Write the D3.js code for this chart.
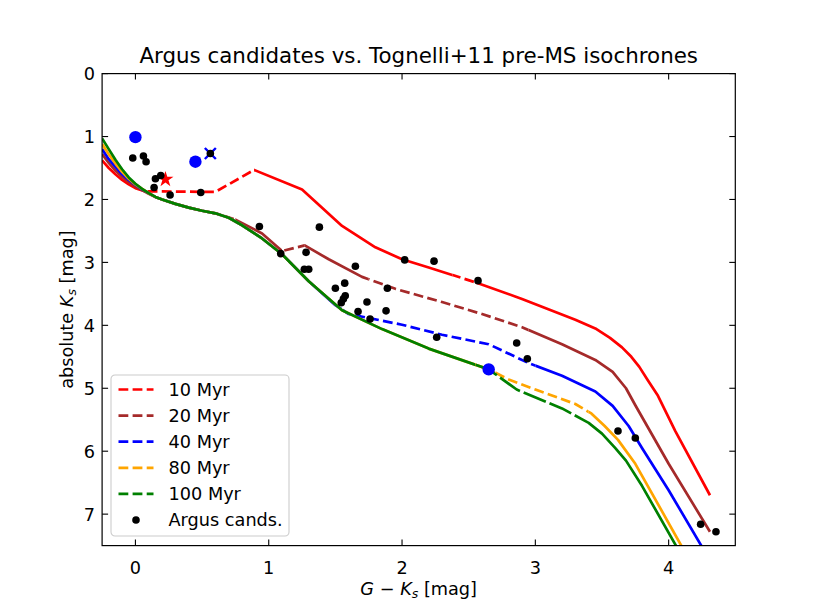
<!DOCTYPE html>
<html>
<head>
<meta charset="utf-8">
<script src="https://cdn.jsdelivr.net/npm/d3@7"></script>
<style>
  body { margin: 0; background: #fff; }
  svg { display: block; font-family: "DejaVu Sans", sans-serif; }
</style>
</head>
<body>
<div id="chart"></div>
<script>
// isochrones, [G-Ks, Ks]
const iso10 = [[-0.25,1.38],[-0.2,1.5],[-0.15,1.6],[-0.1,1.69],[-0.05,1.76],[0.0,1.82],[0.07,1.87],
  [0.6,1.88],[0.89,1.53],[1.25,1.84],[1.55,2.42],[1.8,2.76],[2.0,2.95],[2.2,3.08],[2.57,3.33],
  [2.9,3.58],[3.3,3.91],[3.45,4.05],[3.56,4.2],[3.65,4.35],[3.72,4.5],[3.78,4.66],[3.84,4.86],
  [3.92,5.12],[4.05,5.68],[4.31,6.7]];
const iso20 = [[-0.25,1.28],[-0.2,1.42],[-0.15,1.54],[-0.1,1.64],[-0.05,1.72],[0.0,1.79],[0.05,1.85],
  [0.1,1.91],[0.15,1.96],[0.2,2.0],[0.3,2.07],[0.4,2.13],[0.5,2.18],[0.6,2.22],[0.75,2.32],
  [0.95,2.54],[1.1,2.82],[1.27,2.73],[1.45,2.95],[1.7,3.23],[1.95,3.42],[2.3,3.63],[2.6,3.82],
  [2.9,4.03],[3.2,4.3],[3.45,4.55],[3.58,4.74],[3.68,5.0],[3.75,5.27],[4.0,6.2],[4.31,7.28]];
const iso40 = [[-0.25,1.2],[-0.2,1.36],[-0.15,1.48],[-0.1,1.6],[-0.05,1.69],[0.0,1.77],[0.05,1.84],
  [0.1,1.9],[0.15,1.96],[0.2,2.0],[0.3,2.07],[0.4,2.13],[0.5,2.18],[0.6,2.22],[0.7,2.29],
  [0.8,2.41],[0.95,2.62],[1.1,2.87],[1.3,3.3],[1.5,3.68],[1.6,3.82],[2.0,3.99],[2.3,4.15],
  [2.65,4.3],[2.95,4.6],[3.2,4.8],[3.45,5.05],[3.58,5.28],[3.7,5.6],[3.8,5.95],[4.0,6.62],[4.25,7.52]];
const iso80 = [[-0.25,1.12],[-0.2,1.28],[-0.15,1.43],[-0.1,1.56],[-0.05,1.67],[0.0,1.76],[0.05,1.83],
  [0.1,1.9],[0.15,1.96],[0.2,2.0],[0.3,2.07],[0.4,2.13],[0.5,2.18],[0.6,2.22],[0.7,2.29],
  [0.8,2.41],[0.95,2.62],[1.1,2.87],[1.3,3.3],[1.55,3.76],[1.85,4.06],[2.2,4.37],[2.65,4.7],
  [2.8,4.86],[3.0,5.02],[3.3,5.25],[3.42,5.4],[3.52,5.6],[3.62,5.82],[3.75,6.2],[4.1,7.52]];
const iso100 = [[-0.25,1.03],[-0.2,1.2],[-0.15,1.37],[-0.1,1.52],[-0.05,1.65],[0.0,1.75],[0.05,1.83],
  [0.1,1.9],[0.15,1.96],[0.2,2.0],[0.3,2.07],[0.4,2.13],[0.5,2.18],[0.6,2.22],[0.7,2.29],
  [0.8,2.41],[0.95,2.62],[1.1,2.87],[1.3,3.3],[1.55,3.76],[1.85,4.06],[2.2,4.37],[2.65,4.7],
  [2.86,5.02],[3.2,5.32],[3.4,5.55],[3.5,5.72],[3.6,5.95],[3.68,6.15],[3.8,6.55],[4.06,7.52]];

const ages = ['10 Myr', '20 Myr', '40 Myr', '80 Myr', '100 Myr'];
const isoColors = ['#ff0000', '#a52a2a', '#0000ff', '#ffa500', '#008000'];
// G-Ks ranges where the isochrone is drawn dashed
const dashed10 = [[0.07,0.89],[2.38,2.55]];
const dashed20 = [[0.6,0.75],[1.1,1.27],[1.75,2.95]];
const dashed40 = [[1.55,3.0]];
const dashed80 = [[2.7,3.4]];
const dashed100 = [[2.55,3.35]];
const dashPatterns = ['9.8,4.3', '9.8,4.3', '9.8,4.3', '9.8,4.3', '24,4'];

// Argus candidates
const candX = [-0.02,0.06,0.08,0.15,0.19,0.14,0.26,0.49,0.93,1.09,1.28,1.38,1.267,1.3,1.65,2.02,2.24,
  2.57,1.5,1.57,1.89,1.574,1.56,1.544,1.737,1.67,1.76,1.88,2.26,2.86,2.94,3.62,3.75,4.24,4.355,0.562];
const candY = [1.34,1.31,1.40,1.67,1.62,1.81,1.93,1.89,2.43,2.86,2.84,2.44,3.11,3.11,3.06,2.96,2.98,
  3.29,3.41,3.33,3.41,3.53,3.58,3.64,3.63,3.78,3.90,3.77,4.19,4.28,4.53,5.68,5.79,7.16,7.28,1.27];
// highlighted objects
const bigBlue = [[0.0,1.01],[0.45,1.40],[2.65,4.70]];
const starRed = [[0.225,1.68]];
const crossBlue = [[0.562,1.27]];

const xTicks = [0, 1, 2, 3, 4];
const yTicks = [0, 1, 2, 3, 4, 5, 6, 7];

const W = 817, H = 613;
const margin = { left: 102.1, right: 81.7, top: 73.6, bottom: 67.4 };

const svg = d3.select('#chart').append('svg')
  .attr('width', W).attr('height', H);

const x = d3.scaleLinear().domain([-0.25, 4.5]).range([margin.left, W - margin.right]);
const y = d3.scaleLinear().domain([0, 7.5]).range([margin.top, H - margin.bottom]);

const defs = svg.append('defs');
defs.append('clipPath').attr('id', 'plot-clip')
  .append('rect')
  .attr('x', x(-0.25)).attr('y', y(0))
  .attr('width', x(4.5) - x(-0.25)).attr('height', y(7.5) - y(0));

const isos = [iso10, iso20, iso40, iso80, iso100];
const dashes = [dashed10, dashed20, dashed40, dashed80, dashed100];

const line = d3.line().x(d => x(d[0])).y(d => y(d[1]));

const plot = svg.append('g').attr('clip-path', 'url(#plot-clip)');

isos.forEach((pts, i) => {
  const dr = dashes[i];
  // solid ranges = complement of dashed ranges
  const solid = [];
  let start = -1;
  dr.forEach(r => { solid.push([start, r[0]]); start = r[1]; });
  solid.push([start, 5]);

  const cpSolid = defs.append('clipPath').attr('id', `solid-${i}`);
  solid.forEach(r => cpSolid.append('rect')
    .attr('x', x(r[0])).attr('y', 0)
    .attr('width', x(r[1]) - x(r[0])).attr('height', H));
  const cpDash = defs.append('clipPath').attr('id', `dash-${i}`);
  dr.forEach(r => cpDash.append('rect')
    .attr('x', x(r[0])).attr('y', 0)
    .attr('width', x(r[1]) - x(r[0])).attr('height', H));

  plot.append('path')
    .attr('d', line(pts))
    .attr('clip-path', `url(#solid-${i})`)
    .attr('fill', 'none')
    .attr('stroke', isoColors[i])
    .attr('stroke-width', 2.7)
    .attr('stroke-linejoin', 'round');

  plot.append('path')
    .attr('d', line(pts))
    .attr('clip-path', `url(#dash-${i})`)
    .attr('fill', 'none')
    .attr('stroke', isoColors[i])
    .attr('stroke-width', 2.7)
    .attr('stroke-linejoin', 'round')
    .attr('stroke-dasharray', dashPatterns[i]);
});

// highlighted markers
plot.selectAll('.big-blue')
  .data(bigBlue)
  .join('circle')
  .attr('cx', d => x(d[0])).attr('cy', d => y(d[1]))
  .attr('r', 6.2)
  .attr('fill', '#0000ff');

const star = d3.symbol().type(d3.symbolStar).size(80);
plot.selectAll('.star')
  .data(starRed)
  .join('path')
  .attr('transform', d => `translate(${x(d[0])},${y(d[1])})`)
  .attr('d', star)
  .attr('fill', '#ff0000');

const cross = plot.selectAll('.cross')
  .data(crossBlue)
  .join('g')
  .attr('transform', d => `translate(${x(d[0])},${y(d[1])})`);
cross.append('path')
  .attr('d', 'M-5.5,-5.5L5.5,5.5M-5.5,5.5L5.5,-5.5')
  .attr('stroke', '#0000ff')
  .attr('stroke-width', 2.4);

plot.selectAll('.cand')
  .data(candX.map((v, i) => [v, candY[i]]))
  .join('circle')
  .attr('cx', d => x(d[0])).attr('cy', d => y(d[1]))
  .attr('r', 3.8)
  .attr('fill', '#000');

// axes
const tickLen = 6;
const axisG = svg.append('g');
axisG.append('rect')
  .attr('x', x(-0.25)).attr('y', y(0))
  .attr('width', x(4.5) - x(-0.25)).attr('height', y(7.5) - y(0))
  .attr('fill', 'none').attr('stroke', '#000').attr('stroke-width', 1.2);

xTicks.forEach(t => {
  axisG.append('line')
    .attr('x1', x(t)).attr('x2', x(t))
    .attr('y1', y(7.5)).attr('y2', y(7.5) - tickLen)
    .attr('stroke', '#000').attr('stroke-width', 1.1);
  axisG.append('line')
    .attr('x1', x(t)).attr('x2', x(t))
    .attr('y1', y(0)).attr('y2', y(0) + tickLen)
    .attr('stroke', '#000').attr('stroke-width', 1.1);
  axisG.append('text')
    .attr('x', x(t)).attr('y', y(7.5) + 28)
    .attr('text-anchor', 'middle')
    .attr('font-size', 17.7)
    .text(t);
});

yTicks.forEach(t => {
  axisG.append('line')
    .attr('x1', x(-0.25)).attr('x2', x(-0.25) + tickLen)
    .attr('y1', y(t)).attr('y2', y(t))
    .attr('stroke', '#000').attr('stroke-width', 1.1);
  axisG.append('line')
    .attr('x1', x(4.5)).attr('x2', x(4.5) - tickLen)
    .attr('y1', y(t)).attr('y2', y(t))
    .attr('stroke', '#000').attr('stroke-width', 1.1);
  axisG.append('text')
    .attr('x', x(-0.25) - 7).attr('y', y(t) + 6.5)
    .attr('text-anchor', 'end')
    .attr('font-size', 17.7)
    .text(t);
});

// labels
svg.append('text')
  .attr('x', (x(-0.25) + x(4.5)) / 2).attr('y', 63)
  .attr('text-anchor', 'middle')
  .attr('font-size', 21.4)
  .text('Argus candidates vs. Tognelli+11 pre-MS isochrones');

const xl = svg.append('text')
  .attr('x', (x(-0.25) + x(4.5)) / 2).attr('y', 595)
  .attr('text-anchor', 'middle')
  .attr('font-size', 17.7);
xl.append('tspan').attr('font-style', 'italic').text('G');
xl.append('tspan').text(' \u2212 ');
xl.append('tspan').attr('font-style', 'italic').text('K');
xl.append('tspan').attr('font-style', 'italic').attr('font-size', 12.5).attr('dy', 3).text('s');
xl.append('tspan').attr('dy', -3).text(' [mag]');

const yl = svg.append('text')
  .attr('transform', `translate(73,${(y(0) + y(7.5)) / 2}) rotate(-90)`)
  .attr('text-anchor', 'middle')
  .attr('font-size', 17.7);
yl.append('tspan').text('absolute ');
yl.append('tspan').attr('font-style', 'italic').text('K');
yl.append('tspan').attr('font-style', 'italic').attr('font-size', 12.5).attr('dy', 3).text('s');
yl.append('tspan').attr('dy', -3).text(' [mag]');

// legend
const lg = svg.append('g').attr('transform', 'translate(111,375)');
lg.append('rect')
  .attr('width', 178).attr('height', 161).attr('rx', 4)
  .attr('fill', '#fff').attr('fill-opacity', 0.8)
  .attr('stroke', '#cccccc').attr('stroke-width', 1.1);

const rowY = d3.scaleLinear().domain([0, 5]).range([14.5, 145]);
ages.forEach((a, i) => {
  lg.append('line')
    .attr('x1', 7.5).attr('x2', 42.5)
    .attr('y1', rowY(i)).attr('y2', rowY(i))
    .attr('stroke', isoColors[i]).attr('stroke-width', 2.7)
    .attr('stroke-dasharray', '9.8,4.3');
  lg.append('text')
    .attr('x', 57.5).attr('y', rowY(i) + 6.3)
    .attr('font-size', 17.7)
    .text(a);
});
lg.append('circle')
  .attr('cx', 25).attr('cy', rowY(5)).attr('r', 3.8).attr('fill', '#000');
lg.append('text')
  .attr('x', 57.5).attr('y', rowY(5) + 6.3)
  .attr('font-size', 17.7)
  .text('Argus cands.');
</script>
</body>
</html>
